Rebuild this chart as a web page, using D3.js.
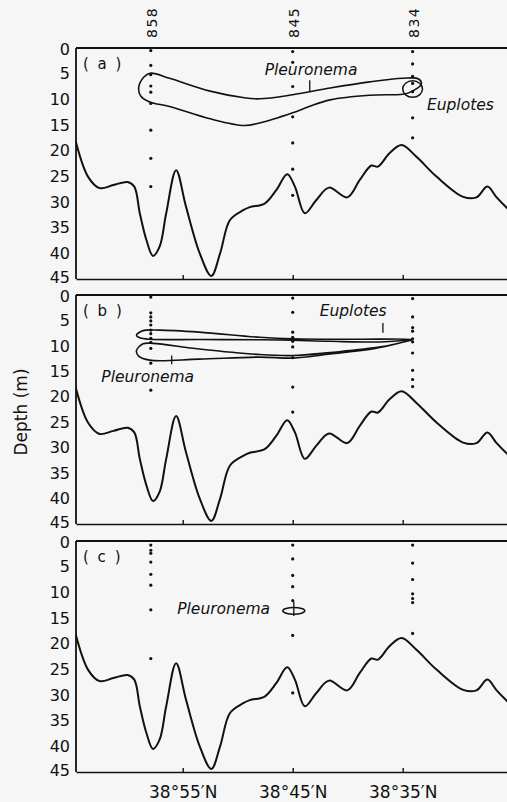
<!DOCTYPE html>
<html>
<head>
<meta charset="utf-8">
<script src="https://cdn.jsdelivr.net/npm/d3@7"></script>
<style>
body { margin: 0; background: #f6f6f6; overflow: hidden; }
svg { display: block; }
text { font-family: "DejaVu Sans", sans-serif; fill: #111; }
</style>
</head>
<body>
<div id="chart"></div>
<script>
// depth (m) and latitude (minutes past 38 deg N)
var depthTicks = [0, 5, 10, 15, 20, 25, 30, 35, 40, 45];
var latTicks = [55, 45, 35];
var latLabels = ["38°55′N", "38°45′N", "38°35′N"];
var panelNames = ["(a)", "(b)", "(c)"];

var stations = ["858", "845", "834"];
var stationLat = [57.9, 45.0, 34.1];

// sample depths at each station, one list per panel
var samplesA = [[0.5, 3.4, 5.2, 7.4, 8.6, 10.8, 16, 21.5, 27], [0.7, 2.8, 7.5, 13.4, 18.5, 23.6, 28.7], [0.7, 3.1, 5.5, 6.9, 8.5, 13.6, 17.5]];
var samplesB = [[0.4, 3.5, 4.3, 5.1, 5.9, 6.9, 7.6, 8.5, 9.3, 10.5, 13.4, 18.7], [0.6, 3.4, 7.3, 8.3, 9.1, 10.2, 12.3, 18.1, 23.0], [0.7, 4.3, 6.4, 7.1, 8.6, 9.2, 11.4, 14.8, 16.6, 18.0]];
var samplesC = [[0.8, 1.8, 2.4, 4.1, 6.5, 8.6, 13.4, 22.9], [0.8, 3.5, 6.7, 8.9, 11.6, 18.4, 29.6], [0.8, 4.3, 7.5, 10.3, 11.2, 12.0, 18.0]];

// bottom profile [lat, depth]
var bottom = [[64.8, 17.6], [63.6, 25.1], [62.55, 27.3], [61.3, 26.7], [60.0, 26.1], [59.4, 27.0],
  [58.9, 32.2], [58.3, 37.4], [57.7, 40.5], [57.1, 38.7], [56.5, 32.2], [55.6, 23.8],
  [54.7, 30.9], [53.45, 40.0], [52.4, 44.4], [51.6, 40.0], [50.7, 33.5], [49.5, 31.6],
  [48.9, 31.0], [47.55, 30.3], [46.5, 27.7], [45.5, 24.6], [44.8, 27.0], [43.9, 32.2],
  [42.85, 29.6], [41.7, 27.2], [40.05, 29.1], [38.9, 25.7], [37.85, 22.9], [37.25, 23.1],
  [36.2, 20.5], [35.1, 18.9], [33.75, 21.2], [31.9, 25.1], [29.5, 29.0], [28.3, 29.1],
  [27.3, 27.0], [26.5, 29.0], [25.5, 31.2], [24.5, 33.0]];

// ciliate contours [lat, depth]
var pleuronemaA = [[59.0, 7.7], [58.5, 5.6], [57.9, 4.9], [56.2, 5.9], [52.5, 8.4], [49.4, 9.7], [48.0, 9.9],
  [45.0, 9.1], [41.6, 7.8], [38.0, 6.6], [35.0, 5.9], [33.6, 6.0], [33.3, 7.0], [34.3, 8.6], [35.0, 9.0],
  [38.0, 9.2], [41.6, 10.1], [43.5, 11.4], [45.0, 12.6], [48.0, 14.6], [49.4, 15.1], [52.5, 13.8],
  [56.2, 11.4], [58.0, 10.5], [58.8, 9.4]];
var euplotesB = [[59.2, 7.9], [58.6, 7.0], [57.1, 6.9], [53.5, 7.3], [48.0, 8.3], [45.0, 8.6], [39.8, 8.7],
  [34.1, 8.7], [36.6, 9.2], [41.6, 9.1], [45.0, 8.9], [48.0, 8.8], [53.5, 8.75], [58.0, 8.7], [58.9, 8.4]];
var pleuronemaB = [[59.2, 10.9], [58.6, 9.6], [57.7, 9.5], [53.5, 10.6], [48.0, 11.7], [45.0, 11.9], [41.6, 11.3],
  [37.0, 10.2], [34.1, 8.8], [37.5, 10.5], [41.6, 11.6], [45.0, 12.4], [48.0, 12.2], [53.5, 12.6],
  [58.0, 12.8], [59.0, 12.0]];

// small patches: panel, lat, depth, lat radius, depth radius
var patches = [[0, 34.1, 8.0, 0.9, 1.6], [2, 44.9, 13.6, 1.0, 0.65]];
// contour marks: panel, lat, depth from, depth to
var marks = [[0, 43.45, 6.3, 8.4], [1, 56.0, 11.9, 13.6], [1, 36.8, 5.5, 7.4], [2, 44.9, 11.8, 14.6]];
// species names: panel, name, lat, depth
var names = [[0, "Pleuronema", 47.55, 5.3], [0, "Euplotes", 32.8, 12.1], [1, "Euplotes", 42.55, 4.1],
  [1, "Pleuronema", 62.4, 17.1], [2, "Pleuronema", 55.5, 14.2]];

var W = 507, H = 802;
var svg = d3.select('#chart').append('svg')
  .attr('width', W)
  .attr('height', H);

var x = d3.scaleLinear().domain([64.7, 24]).range([76, 76 + 40.7 * 11]);

var panels = [
  {top: 48, bottom: 279, samples: samplesA, contours: [pleuronemaA]},
  {top: 295, bottom: 524, samples: samplesB, contours: [euplotesB, pleuronemaB]},
  {top: 541, bottom: 772, samples: samplesC, contours: []}
];

panels.forEach(function(p, i) {
  var y = d3.scaleLinear().domain([0, 45]).range([p.top, p.bottom]);
  var g = svg.append('g');

  g.append('clipPath').attr('id', 'clip' + i)
    .append('rect')
    .attr('x', x.range()[0]).attr('y', p.top)
    .attr('width', W - x.range()[0]).attr('height', p.bottom - p.top);
  var plot = g.append('g').attr('clip-path', 'url(#clip' + i + ')');

  // depth labels (first and last nudged apart so stacked panels don't collide)
  var ya = g.append('g')
    .attr('transform', 'translate(' + x.range()[0] + ',0)')
    .call(d3.axisLeft(y).tickValues(depthTicks).tickSize(0).tickPadding(6));
  ya.select('.domain').remove();
  ya.selectAll('text')
    .attr('font-size', 16)
    .attr('font-family', '"DejaVu Sans", sans-serif')
    .attr('fill', '#111')
    .attr('y', function(d) { return d == 0 ? 1.6 : (d == 45 ? -1.6 : 0); });

  // bottom axis, ticks pointing up
  var xa = g.append('g')
    .attr('transform', 'translate(0,' + p.bottom + ')')
    .call(d3.axisBottom(x).tickValues(latTicks).tickSize(-4).tickSizeOuter(0)
      .tickFormat(function(d, k) { return i == 2 ? latLabels[k] : ""; }).tickPadding(14));
  xa.select('.domain').attr('stroke', '#111').attr('stroke-width', 1.6);
  xa.selectAll('line').attr('stroke', '#111').attr('stroke-width', 1.4);
  xa.selectAll('text').attr('font-size', 17).attr('font-family', '"DejaVu Sans", sans-serif').attr('fill', '#111');

  // top and left border
  g.append('line')
    .attr('x1', x.range()[0]).attr('x2', W)
    .attr('y1', p.top).attr('y2', p.top)
    .attr('stroke', '#111').attr('stroke-width', 2);
  g.append('line')
    .attr('x1', x.range()[0]).attr('x2', x.range()[0])
    .attr('y1', p.top).attr('y2', p.bottom)
    .attr('stroke', '#111').attr('stroke-width', 1.8);

  g.append('text')
    .attr('x', 83).attr('y', p.top + 21)
    .attr('font-size', 15)
    .attr('letter-spacing', 2)
    .text(panelNames[i].replace('(', '( ').replace(')', ' )'));

  // sample dots
  p.samples.forEach(function(list, s) {
    plot.selectAll(null).data(list).enter().append('circle')
      .attr('cx', x(stationLat[s]))
      .attr('cy', function(d) { return y(d); })
      .attr('r', 1.6)
      .attr('fill', '#111');
  });

  // bottom profile
  var line = d3.line()
    .x(function(d) { return x(d[0]); })
    .y(function(d) { return y(d[1]); })
    .curve(d3.curveCatmullRom.alpha(0.5));
  plot.append('path')
    .attr('d', line(bottom))
    .attr('fill', 'none').attr('stroke', '#111').attr('stroke-width', 2);

  // contours
  var closed = d3.line()
    .x(function(d) { return x(d[0]); })
    .y(function(d) { return y(d[1]); })
    .curve(d3.curveCatmullRomClosed.alpha(0.5));
  p.contours.forEach(function(c) {
    plot.append('path')
      .attr('d', closed(c))
      .attr('fill', 'none').attr('stroke', '#111').attr('stroke-width', 1.6);
  });

  patches.filter(function(d) { return d[0] == i; }).forEach(function(d) {
    plot.append('ellipse')
      .attr('cx', x(d[1])).attr('cy', y(d[2]))
      .attr('rx', Math.abs(x(d[1] + d[3]) - x(d[1])))
      .attr('ry', y(d[2] + d[4]) - y(d[2]))
      .attr('fill', 'none').attr('stroke', '#111').attr('stroke-width', 1.5);
  });
  marks.filter(function(d) { return d[0] == i; }).forEach(function(d) {
    plot.append('line')
      .attr('x1', x(d[1])).attr('x2', x(d[1]))
      .attr('y1', y(d[2])).attr('y2', y(d[3]))
      .attr('stroke', '#111').attr('stroke-width', 1.3);
  });
  names.filter(function(d) { return d[0] == i; }).forEach(function(d) {
    g.append('text')
      .attr('x', x(d[2])).attr('y', y(d[3]))
      .attr('font-size', 15.5)
      .attr('font-style', 'italic')
      .text(d[1]);
  });
});

// station numbers above the top panel
stations.forEach(function(s, k) {
  svg.append('text')
    .attr('transform', 'translate(' + (x(stationLat[k]) + 6) + ',38) rotate(-90)')
    .attr('font-size', 14)
    .attr('letter-spacing', 1.5)
    .text(s);
});

// y axis title
svg.append('text')
  .attr('transform', 'translate(27,412) rotate(-90)')
  .attr('text-anchor', 'middle')
  .attr('font-size', 17)
  .text('Depth (m)');
</script>
</body>
</html>
